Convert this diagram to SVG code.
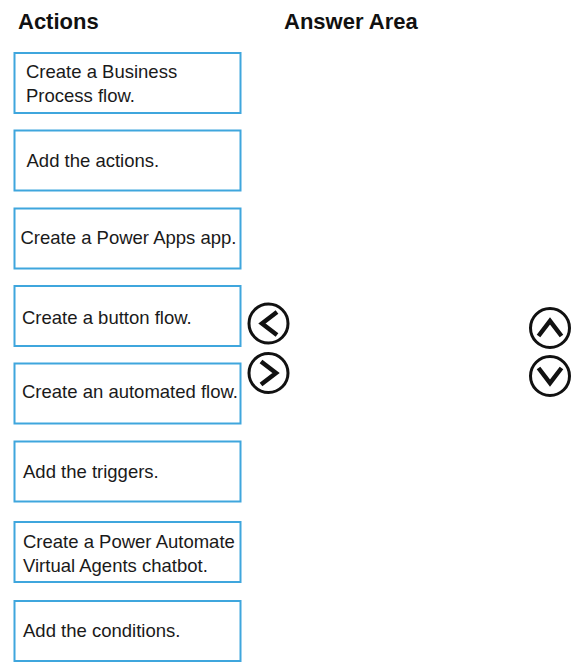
<svg xmlns="http://www.w3.org/2000/svg" width="580" height="669" viewBox="0 0 580 669">
<style>
.box{fill:#ffffff;stroke:#3fa6dd;stroke-width:2}
.t{font-family:"Liberation Sans",Arial,sans-serif;font-size:18.5px;fill:#1a1a1a}
.h{font-family:"Liberation Sans",Arial,sans-serif;font-size:22px;font-weight:bold;fill:#111111}
.circ{fill:none;stroke:#111111;stroke-width:3}
.chev{fill:none;stroke:#111111;stroke-width:4.5;stroke-linecap:butt;stroke-linejoin:miter}
</style>
<rect width="580" height="669" fill="#ffffff"/>
<text class="h" x="18" y="29">Actions</text>
<text class="h" x="284" y="29">Answer Area</text>
<g id="action1"><rect class="box" x="14.5" y="53" width="226" height="60"/><text class="t" x="26" y="78">Create a Business</text><text class="t" x="26" y="101.5">Process flow.</text></g>
<g id="action2"><rect class="box" x="14.5" y="130.5" width="226" height="60"/><text class="t" x="26.5" y="166.5">Add the actions.</text></g>
<g id="action3"><rect class="box" x="14.5" y="208.5" width="226" height="60"/><text class="t" x="20.5" y="244.3">Create a Power Apps app.</text></g>
<g id="action4"><rect class="box" x="14.5" y="286" width="226" height="60"/><text class="t" x="22" y="324.3">Create a button flow.</text></g>
<g id="action5"><rect class="box" x="14.5" y="363.5" width="226" height="60"/><text class="t" x="22" y="398.3">Create an automated flow.</text></g>
<g id="action6"><rect class="box" x="14.5" y="441.5" width="226" height="60"/><text class="t" x="23" y="478.3">Add the triggers.</text></g>
<g id="action7"><rect class="box" x="14.5" y="522" width="226" height="60"/><text class="t" x="23" y="548.3">Create a Power Automate</text><text class="t" x="23" y="571.7">Virtual Agents chatbot.</text></g>
<g id="action8"><rect class="box" x="14.5" y="601" width="226" height="60"/><text class="t" x="23" y="636.7">Add the conditions.</text></g>
<g id="btn-left"><circle class="circ" cx="268.5" cy="323.5" r="19.5"/><polyline class="chev" points="277,312 262,323.5 277,335"/></g>
<g id="btn-right"><circle class="circ" cx="268.5" cy="373" r="19.5"/><polyline class="chev" points="261,361.5 276,373 261,384.5"/></g>
<g id="btn-up"><circle class="circ" cx="550" cy="328" r="19.5"/><polyline class="chev" points="538.5,336 550,321 561.5,336"/></g>
<g id="btn-down"><circle class="circ" cx="550" cy="376" r="19.5"/><polyline class="chev" points="538.5,368 550,383 561.5,368"/></g>
<g id="connectors"></g>
</svg>
